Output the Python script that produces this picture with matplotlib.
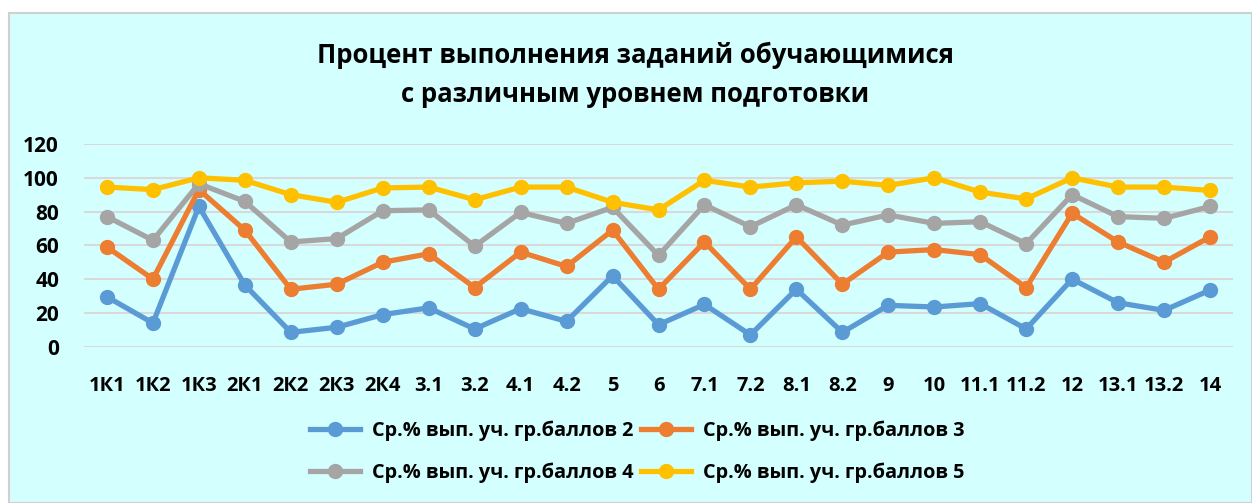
import matplotlib.pyplot as plt
from matplotlib.patches import Rectangle

categories = ["1К1", "1К2", "1К3", "2К1", "2К2", "2К3", "2К4", "3.1", "3.2", "4.1", "4.2", "5",
              "6", "7.1", "7.2", "8.1", "8.2", "9", "10", "11.1", "11.2", "12", "13.1", "13.2", "14"]

group2 = [29.5, 14, 83, 36.5, 8.5, 11.5, 19, 23, 10.5, 22.5, 15, 42,
          13, 25, 7, 34, 8.5, 24.5, 23.5, 25.5, 10.5, 40, 26, 21.5, 33.5]
group3 = [59, 40, 93, 69, 34, 37, 50, 55, 35, 56, 47.5, 69,
          34, 62, 34, 65, 37, 56, 57.5, 54.5, 35, 79, 62, 50, 65]
group4 = [77, 63, 96.5, 86, 62, 64, 80.5, 81, 59.5, 79.5, 73, 82.5,
          54, 84, 71, 84, 72, 78, 73, 74, 61, 90, 77, 76, 83]
group5 = [94.5, 93, 100, 98.5, 90, 85.5, 94, 94.5, 87, 94.5, 94.5, 85.5,
          81, 98.5, 94.5, 97, 98, 95.5, 100, 91.5, 87.5, 100, 94.5, 94.5, 92.5]

series_labels = ["Ср.% вып. уч. гр.баллов 2", "Ср.% вып. уч. гр.баллов 3",
                 "Ср.% вып. уч. гр.баллов 4", "Ср.% вып. уч. гр.баллов 5"]
colors = ["#5B9BD5", "#ED7D31", "#A5A5A5", "#FFC000"]

plt.rcParams["font.family"] = ["Open Sans", "DejaVu Sans"]
plt.rcParams["font.weight"] = "bold"

W, H = 1252, 503
fig = plt.figure(figsize=(W / 100, H / 100), dpi=100)
fig.patch.set_facecolor("white")
fig.patches.append(Rectangle((9 / W, 0), (W - 9) / W, (H - 13) / H, transform=fig.transFigure,
                             facecolor="#D4FFFF", edgecolor="#D0D0D0", linewidth=1.5, zorder=-5))

ax = fig.add_axes([84 / W, (H - 346.7) / H, (1233 - 84) / W, (346.7 - 144) / H])
ax.set_facecolor("none")
ax.set_zorder(2)

x = list(range(len(categories)))
handles = []
for vals, lab, c in zip([group2, group3, group4, group5], series_labels, colors):
    ln, = ax.plot(x, vals, color=c, linewidth=3.8, marker="o", markersize=10, label=lab)
    handles.append(ln)

ax.set_xlim(-0.5, len(categories) - 0.5)
ax.set_ylim(0, 120)
ax.set_yticks(range(0, 121, 20))
ax.set_xticks(x)
ax.set_xticklabels(categories)
ax.tick_params(axis="both", length=0)
ax.tick_params(axis="x", pad=21, labelsize=14.5)
ax.tick_params(axis="y", pad=18, labelsize=15)
ax.grid(axis="y", color="#D9D9D9", linewidth=1.5)
ax.set_axisbelow(True)
for s in ax.spines.values():
    s.set_visible(False)

fig.text(635 / W, 1 - 55 / H, "Процент выполнения заданий обучающимися", ha="center", va="center",
         fontsize=18.5, fontweight="bold")
fig.text(635 / W, 1 - 95 / H, "с различным уровнем подготовки", ha="center", va="center",
         fontsize=18.5, fontweight="bold")

# excel fills the legend row by row
order = [0, 2, 1, 3]
fig.legend([handles[i] for i in order], [series_labels[i] for i in order], ncol=2, loc="center",
           bbox_to_anchor=(637 / W, 1 - 452 / H), frameon=False,
           fontsize=14.3, handlelength=2.5, columnspacing=0.4, labelspacing=1.1, handletextpad=0.6)

fig.savefig("out.png", dpi=100)
